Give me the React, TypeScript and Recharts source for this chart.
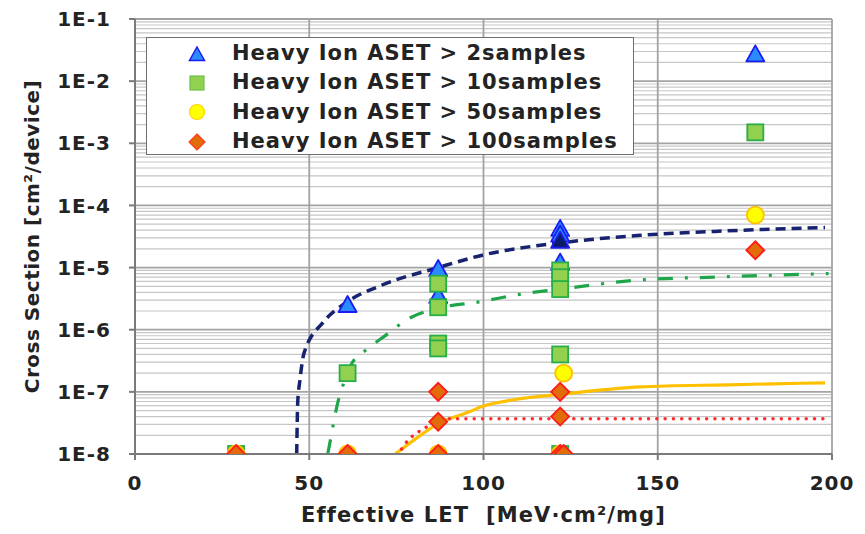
import { CartesianGrid, ComposedChart, Label, Legend, Line, Scatter, XAxis, YAxis } from "recharts";

const FONT = "'DejaVu Sans', 'Liberation Sans', Arial, sans-serif";
const TEXT = "#232323";

// axis ticks
const xTicks = [0, 50, 100, 150, 200];
const yTicks = [1e-8, 1e-7, 1e-6, 1e-5, 1e-4, 1e-3, 1e-2, 1e-1];
const yTickLabels = ["1E-8", "1E-7", "1E-6", "1E-5", "1E-4", "1E-3", "1E-2", "1E-1"];
const minorSteps = [2, 3, 4, 5, 6, 7, 8, 9];

// measured points (LET, cross section)
const aset2X = [61, 87, 87, 122, 122, 122, 178];
const aset2Y = [2.5e-6, 9.5e-6, 3.5e-6, 4.2e-5, 3.4e-5, 1.2e-5, 2.7e-2];
const aset2DarkX = [122];
const aset2DarkY = [2.7e-5];
const aset10X = [61, 87, 87, 87, 87, 122, 122, 122, 122, 178, 29, 122];
const aset10Y = [2e-7, 5.5e-6, 2.3e-6, 6e-7, 5e-7, 9e-6, 7e-6, 4.5e-6, 4e-7, 1.5e-3, 1e-8, 1e-8];
const aset50X = [123, 178, 29, 61, 87, 122];
const aset50Y = [2e-7, 7e-5, 1e-8, 1e-8, 1e-8, 1e-8];
const aset100X = [87, 87, 122, 122, 178, 29, 61, 87, 122, 123];
const aset100Y = [1e-7, 3.3e-8, 1e-7, 4e-8, 1.9e-5, 1e-8, 1e-8, 1e-8, 1e-8, 1e-8];

// fitted curves
const fit2X = [46.4, 46.7, 47.3, 48.5, 53.9, 60.4, 70.4, 87, 100, 122, 145, 170, 198];
const fit2Y = [1e-8, 7e-8, 1.5e-7, 4.2e-7, 1.3e-6, 2.7e-6, 5.1e-6, 1.0e-5, 1.6e-5, 2.5e-5, 3.3e-5, 3.9e-5, 4.4e-5];
const fit10X = [55.3, 55.7, 56.9, 58.1, 59.8, 61.8, 67.1, 72.4, 77.5, 86.7, 98.7, 111.5, 122, 143, 169, 199];
const fit10Y = [1e-8, 1.3e-8, 3e-8, 6.4e-8, 1.34e-7, 2.6e-7, 5.1e-7, 8.5e-7, 1.4e-6, 2.2e-6, 2.8e-6, 3.8e-6, 4.5e-6, 6.2e-6, 7.1e-6, 8e-6];
const fit50X = [74.7, 80.8, 87.5, 95.2, 100, 109.5, 122, 145, 170, 198];
const fit50Y = [1e-8, 1.8e-8, 3.2e-8, 4.6e-8, 5.9e-8, 7.6e-8, 9.1e-8, 1.2e-7, 1.3e-7, 1.4e-7];
const fit100X = [76.5, 78.5, 81, 87, 90, 198];
const fit100Y = [1.2e-8, 1.7e-8, 2.2e-8, 3.3e-8, 3.7e-8, 3.7e-8];

const legendNames = [
  "Heavy Ion ASET > 2samples",
  "Heavy Ion ASET > 10samples",
  "Heavy Ion ASET > 50samples",
  "Heavy Ion ASET > 100samples",
];

const pts = (xs: number[], ys: number[]) => xs.map((x, i) => ({ x, y: ys[i] }));

const minorValues = yTicks.slice(0, -1).flatMap((d) => minorSteps.map((m) => d * m));

const triangle = (fill: string) => (p: any) => (
  <path
    d={`M${p.cx},${p.cy - 9} L${p.cx + 9},${p.cy + 7} L${p.cx - 9},${p.cy + 7} Z`}
    fill={fill}
    stroke="#1c1cf0"
    strokeWidth={1.8}
    strokeLinejoin="round"
  />
);
const square = (p: any) => (
  <rect x={p.cx - 8} y={p.cy - 8} width={16} height={16} fill="#92d050" stroke="#27ae47" strokeWidth={1.8} />
);
const circle = (p: any) => <circle cx={p.cx} cy={p.cy} r={8.5} fill="#ffff00" stroke="#ffc000" strokeWidth={1.8} />;
const diamond = (p: any) => (
  <path
    d={`M${p.cx},${p.cy - 9} L${p.cx + 9},${p.cy} L${p.cx},${p.cy + 9} L${p.cx - 9},${p.cy} Z`}
    fill="#e26b0a"
    stroke="#ff1a1a"
    strokeWidth={1.8}
  />
);

const legendIcons = [
  <svg width={18} height={18}>
    <path d="M9,2 L16.5,15.5 L1.5,15.5 Z" fill="#2a8cff" stroke="#1c1cf0" strokeWidth={1.5} />
  </svg>,
  <svg width={18} height={18}>
    <rect x={2} y={2} width={14} height={14} fill="#92d050" stroke="#6cc04a" strokeWidth={1.2} />
  </svg>,
  <svg width={18} height={18}>
    <circle cx={9} cy={9} r={7.5} fill="#ffff00" stroke="#ffd200" strokeWidth={1.2} />
  </svg>,
  <svg width={18} height={18}>
    <path d="M9,1 L17,9 L9,17 L1,9 Z" fill="#e26b0a" stroke="#ff3a1a" strokeWidth={1.2} />
  </svg>,
];

const renderLegend = () => (
  <div
    style={{
      width: 488,
      height: 118,
      border: "1.5px solid #6e6e6e",
      background: "#fff",
      boxSizing: "border-box",
      paddingTop: 1,
    }}
  >
    {legendNames.map((name, i) => (
      <div key={name} style={{ display: "flex", alignItems: "center", height: 29.3 }}>
        <div style={{ width: 18, height: 18, marginLeft: 41, marginRight: 26 }}>{legendIcons[i]}</div>
        <span
          style={{
            fontFamily: FONT,
            fontWeight: "bold",
            fontSize: 21,
            letterSpacing: 1,
            color: TEXT,
            whiteSpace: "nowrap",
            lineHeight: "21px",
          }}
        >
          {name}
        </span>
      </div>
    ))}
  </div>
);

const tickStyle = { fill: TEXT, fontSize: 20, fontWeight: "bold", fontFamily: FONT, letterSpacing: 1 };

export default function App() {
  return (
    <>
      <style>{"body{margin:0}"}</style>
      <ComposedChart
        width={865}
        height={534}
        margin={{ top: 19, right: 33, bottom: 0, left: 0 }}
        style={{ fontFamily: FONT }}
      >
        <CartesianGrid vertical={false} horizontalValues={minorValues} stroke="#c6c6c6" strokeWidth={1.2} />
        <CartesianGrid horizontalValues={yTicks} stroke="#a3a3a3" strokeWidth={1.8} />
        <XAxis
          type="number"
          dataKey="x"
          domain={[0, 200]}
          ticks={xTicks}
          height={80}
          stroke="#7a7a7a"
          strokeWidth={2}
          tickSize={6}
          tickMargin={16}
          tick={tickStyle}
        >
          <Label
            value={"Effective LET\u00a0\u00a0[MeV·cm²/mg]"}
            position="insideBottom"
            offset={12}
            style={{ fill: TEXT, fontSize: 21, fontWeight: "bold", fontFamily: FONT, letterSpacing: 1.1 }}
          />
        </XAxis>
        <YAxis
          type="number"
          dataKey="y"
          scale="log"
          domain={[1e-8, 1e-1]}
          allowDataOverflow
          ticks={yTicks}
          tickFormatter={(v: number) => yTickLabels[yTicks.findIndex((t) => Math.abs(t - v) < t * 1e-6)] ?? ""}
          interval={0}
          width={135}
          stroke="#7a7a7a"
          strokeWidth={2}
          tickSize={6}
          tickMargin={18}
          tick={tickStyle}
        >
          <Label
            content={(props: any) => {
              const vb = props.viewBox;
              const cx = vb.x + 32;
              const cy = vb.y + vb.height / 2;
              return (
                <text
                  x={cx}
                  y={cy}
                  dy="0.36em"
                  transform={`rotate(-90 ${cx} ${cy})`}
                  textAnchor="middle"
                  fill={TEXT}
                  fontSize={20}
                  fontWeight="bold"
                  fontFamily={FONT}
                  letterSpacing={0.5}
                >
                  Cross Section [cm²/device]
                </text>
              );
            }}
          />
        </YAxis>
        <Legend
          layout="vertical"
          align="center"
          verticalAlign="middle"
          content={renderLegend}
          wrapperStyle={{ left: 146, top: 37, width: 488, height: 118 }}
        />
        <Line
          data={pts(fit2X, fit2Y)}
          dataKey="y"
          type="monotone"
          dot={false}
          stroke="#17236e"
          strokeWidth={3.5}
          strokeDasharray="10 6"
          isAnimationActive={false}
        />
        <Line
          data={pts(fit10X, fit10Y)}
          dataKey="y"
          type="monotone"
          dot={false}
          stroke="#1fa64a"
          strokeWidth={3.2}
          strokeDasharray="15 12 3 12"
          isAnimationActive={false}
        />
        <Line
          data={pts(fit50X, fit50Y)}
          dataKey="y"
          type="monotone"
          dot={false}
          stroke="#ffc000"
          strokeWidth={3.2}
          isAnimationActive={false}
        />
        <Line
          data={pts(fit100X, fit100Y)}
          dataKey="y"
          type="monotone"
          dot={false}
          stroke="#ff2a2a"
          strokeWidth={3.4}
          strokeDasharray="0.1 8.2"
          strokeLinecap="round"
          isAnimationActive={false}
        />
        <Scatter data={pts(aset2X, aset2Y)} shape={triangle("#2a8cff")} isAnimationActive={false} />
        <Scatter data={pts(aset2DarkX, aset2DarkY)} shape={triangle("#0b1b66")} isAnimationActive={false} />
        <Scatter data={pts(aset10X, aset10Y)} shape={square} isAnimationActive={false} />
        <Scatter data={pts(aset50X, aset50Y)} shape={circle} isAnimationActive={false} />
        <Scatter data={pts(aset100X, aset100Y)} shape={diamond} isAnimationActive={false} />
      </ComposedChart>
    </>
  );
}
